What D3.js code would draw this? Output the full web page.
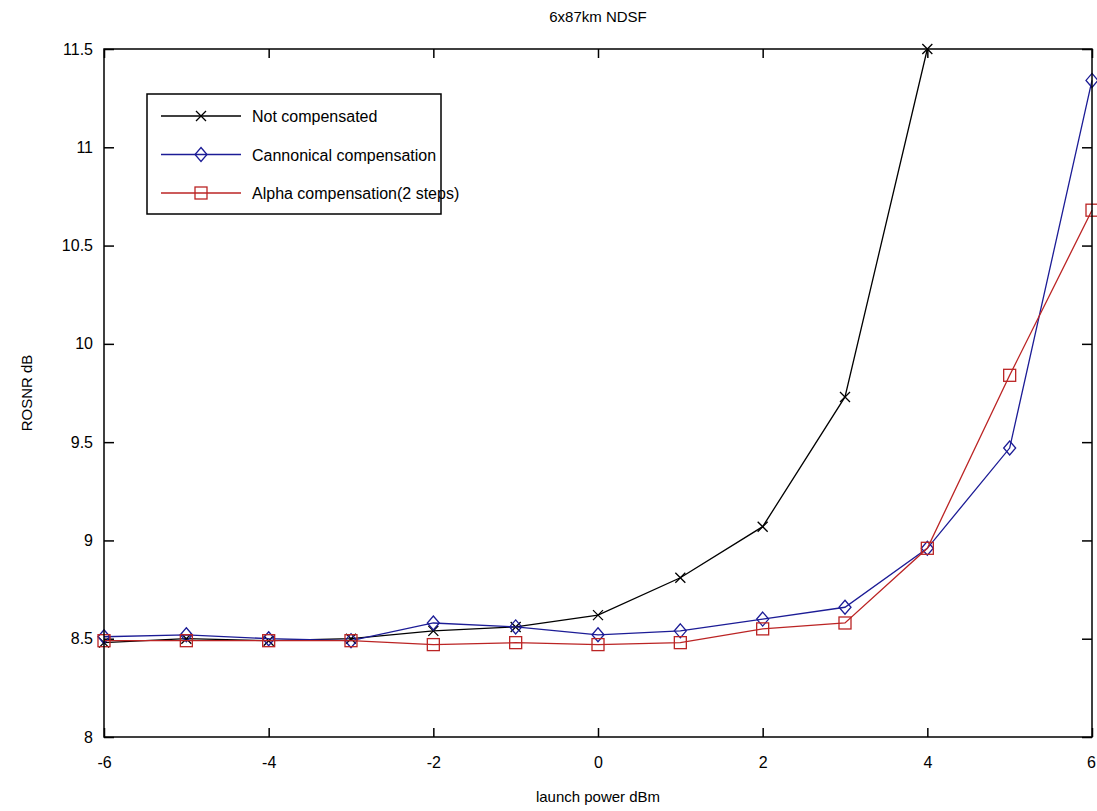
<!DOCTYPE html>
<html>
<head>
<meta charset="utf-8">
<script src="https://cdn.jsdelivr.net/npm/d3@7"></script>
<style>
  body { margin: 0; background: #fff; }
  svg { display: block; font-family: "Liberation Sans", Arial, sans-serif; }
</style>
</head>
<body>
<div id="chart"></div>
<script>
// launch power (dBm)
const power = [-6, -5, -4, -3, -2, -1, 0, 1, 2, 3, 4, 5, 6];
// ROSNR values (dB)
const notCompensated = [8.48, 8.50, 8.49, 8.50, 8.54, 8.56, 8.62, 8.81, 9.07, 9.73, 11.50, null, null];
const cannonical = [8.51, 8.52, 8.50, 8.49, 8.58, 8.56, 8.52, 8.54, 8.60, 8.66, 8.96, 9.47, 11.34];
const alpha2 = [8.49, 8.49, 8.49, 8.49, 8.47, 8.48, 8.47, 8.48, 8.55, 8.58, 8.96, 9.84, 10.68];

const xTicks = [-6, -4, -2, 0, 2, 4, 6];
const yTicks = [8, 8.5, 9, 9.5, 10, 10.5, 11, 11.5];

const seriesNames = ['Not compensated', 'Cannonical compensation', 'Alpha compensation(2 steps)'];
const seriesColors = ['#000000', '#1c1c96', '#bb2424'];
const seriesMarkers = ['x', 'diamond', 'square'];

const W = 1097, H = 811;
const margin = {top: 49, right: 5, bottom: 74, left: 104};
const width = W - margin.left - margin.right,
    height = H - margin.top - margin.bottom;

const svg = d3.select('#chart').append('svg')
    .attr('width', W)
    .attr('height', H);

const g = svg.append('g')
    .attr('transform', `translate(${margin.left}, ${margin.top})`);

const x = d3.scaleLinear().domain([-6, 6]).range([0, width]);
const y = d3.scaleLinear().domain([8, 11.5]).range([height, 0]);

const fmt = (d) => String(d);   // plain hyphen, like matlab

// axes (ticks pointing inward, matlab style)
const axisStyle = (sel) => {
    sel.select('.domain').remove();
    sel.selectAll('.tick line').attr('stroke', '#000').attr('stroke-width', 1.5);
    sel.selectAll('.tick text').attr('fill', '#000').style('font-size', '16px');
};

g.append('g')
    .attr('transform', `translate(0, ${height})`)
    .call(d3.axisBottom(x).tickValues(xTicks).tickSize(-9).tickPadding(20).tickFormat(fmt))
    .call(axisStyle);
g.append('g')
    .call(d3.axisTop(x).tickValues(xTicks).tickSize(-9).tickFormat(''))
    .call(axisStyle);
g.append('g')
    .call(d3.axisLeft(y).tickValues(yTicks).tickSize(-10).tickPadding(11).tickFormat(fmt))
    .call(axisStyle);
g.append('g')
    .attr('transform', `translate(${width}, 0)`)
    .call(d3.axisRight(y).tickValues(yTicks).tickSize(-10).tickFormat(''))
    .call(axisStyle);

// keep the right-most tick label inside the window
g.selectAll('.tick text').filter((d) => d === 6).attr('dx', '-1');

// clip so the lines stop near the frame
g.append('clipPath').attr('id', 'clip')
    .append('rect').attr('x', -10).attr('y', -10).attr('width', width + 20).attr('height', height + 20);

const line = d3.line()
    .defined((d) => d.v !== null)
    .x((d) => x(d.p))
    .y((d) => y(d.v));

function drawMarker(sel, type, color) {
    if (type === 'x') {
        sel.append('path').attr('d', 'M-5,-5L5,5M-5,5L5,-5')
            .attr('stroke', color).attr('stroke-width', 1.3).attr('fill', 'none');
    } else if (type === 'diamond') {
        sel.append('path').attr('d', 'M0,-7L6,0L0,7L-6,0Z')
            .attr('stroke', color).attr('stroke-width', 1.3).attr('fill', 'none');
    } else {
        sel.append('rect').attr('x', -6).attr('y', -6).attr('width', 12).attr('height', 12)
            .attr('stroke', color).attr('stroke-width', 1.3).attr('fill', 'none');
    }
}

const allSeries = [notCompensated, cannonical, alpha2];
const plot = g.append('g').attr('clip-path', 'url(#clip)');
allSeries.forEach((vals, i) => {
    const data = power.map((p, j) => ({p: p, v: vals[j]}));
    plot.append('path')
        .datum(data)
        .attr('fill', 'none')
        .attr('stroke', seriesColors[i])
        .attr('stroke-width', 1.3)
        .attr('d', line);
    plot.selectAll(null)
        .data(data.filter((d) => d.v !== null))
        .enter()
        .append('g')
        .attr('transform', (d) => `translate(${x(d.p)}, ${y(d.v)})`)
        .each(function () { drawMarker(d3.select(this), seriesMarkers[i], seriesColors[i]); });
});

// frame
g.append('rect')
    .attr('width', width).attr('height', height)
    .attr('fill', 'none').attr('stroke', '#000').attr('stroke-width', 1.5);

// legend
const legend = g.append('g').attr('transform', 'translate(43, 45)');
legend.append('rect')
    .attr('width', 294).attr('height', 120)
    .attr('fill', '#fff').attr('stroke', '#000').attr('stroke-width', 1.5);
seriesNames.forEach((name, i) => {
    const row = legend.append('g').attr('transform', `translate(0, ${22 + i * 38.5})`);
    row.append('line')
        .attr('x1', 14).attr('x2', 94)
        .attr('stroke', seriesColors[i]).attr('stroke-width', 1.3);
    const m = row.append('g').attr('transform', 'translate(54, 0)');
    drawMarker(m, seriesMarkers[i], seriesColors[i]);
    row.append('text')
        .attr('x', 105).attr('dy', '0.4em')
        .style('font-size', '16px')
        .text(name);
});

// title and axis labels
svg.append('text')
    .attr('x', margin.left + width / 2).attr('y', 22)
    .attr('text-anchor', 'middle')
    .style('font-size', '15px')
    .text('6x87km NDSF');
svg.append('text')
    .attr('x', margin.left + width / 2).attr('y', 802)
    .attr('text-anchor', 'middle')
    .style('font-size', '15px')
    .text('launch power dBm');
svg.append('text')
    .attr('transform', `translate(32, ${margin.top + height / 2}) rotate(-90)`)
    .attr('text-anchor', 'middle')
    .style('font-size', '15px')
    .text('ROSNR dB');
</script>
</body>
</html>
